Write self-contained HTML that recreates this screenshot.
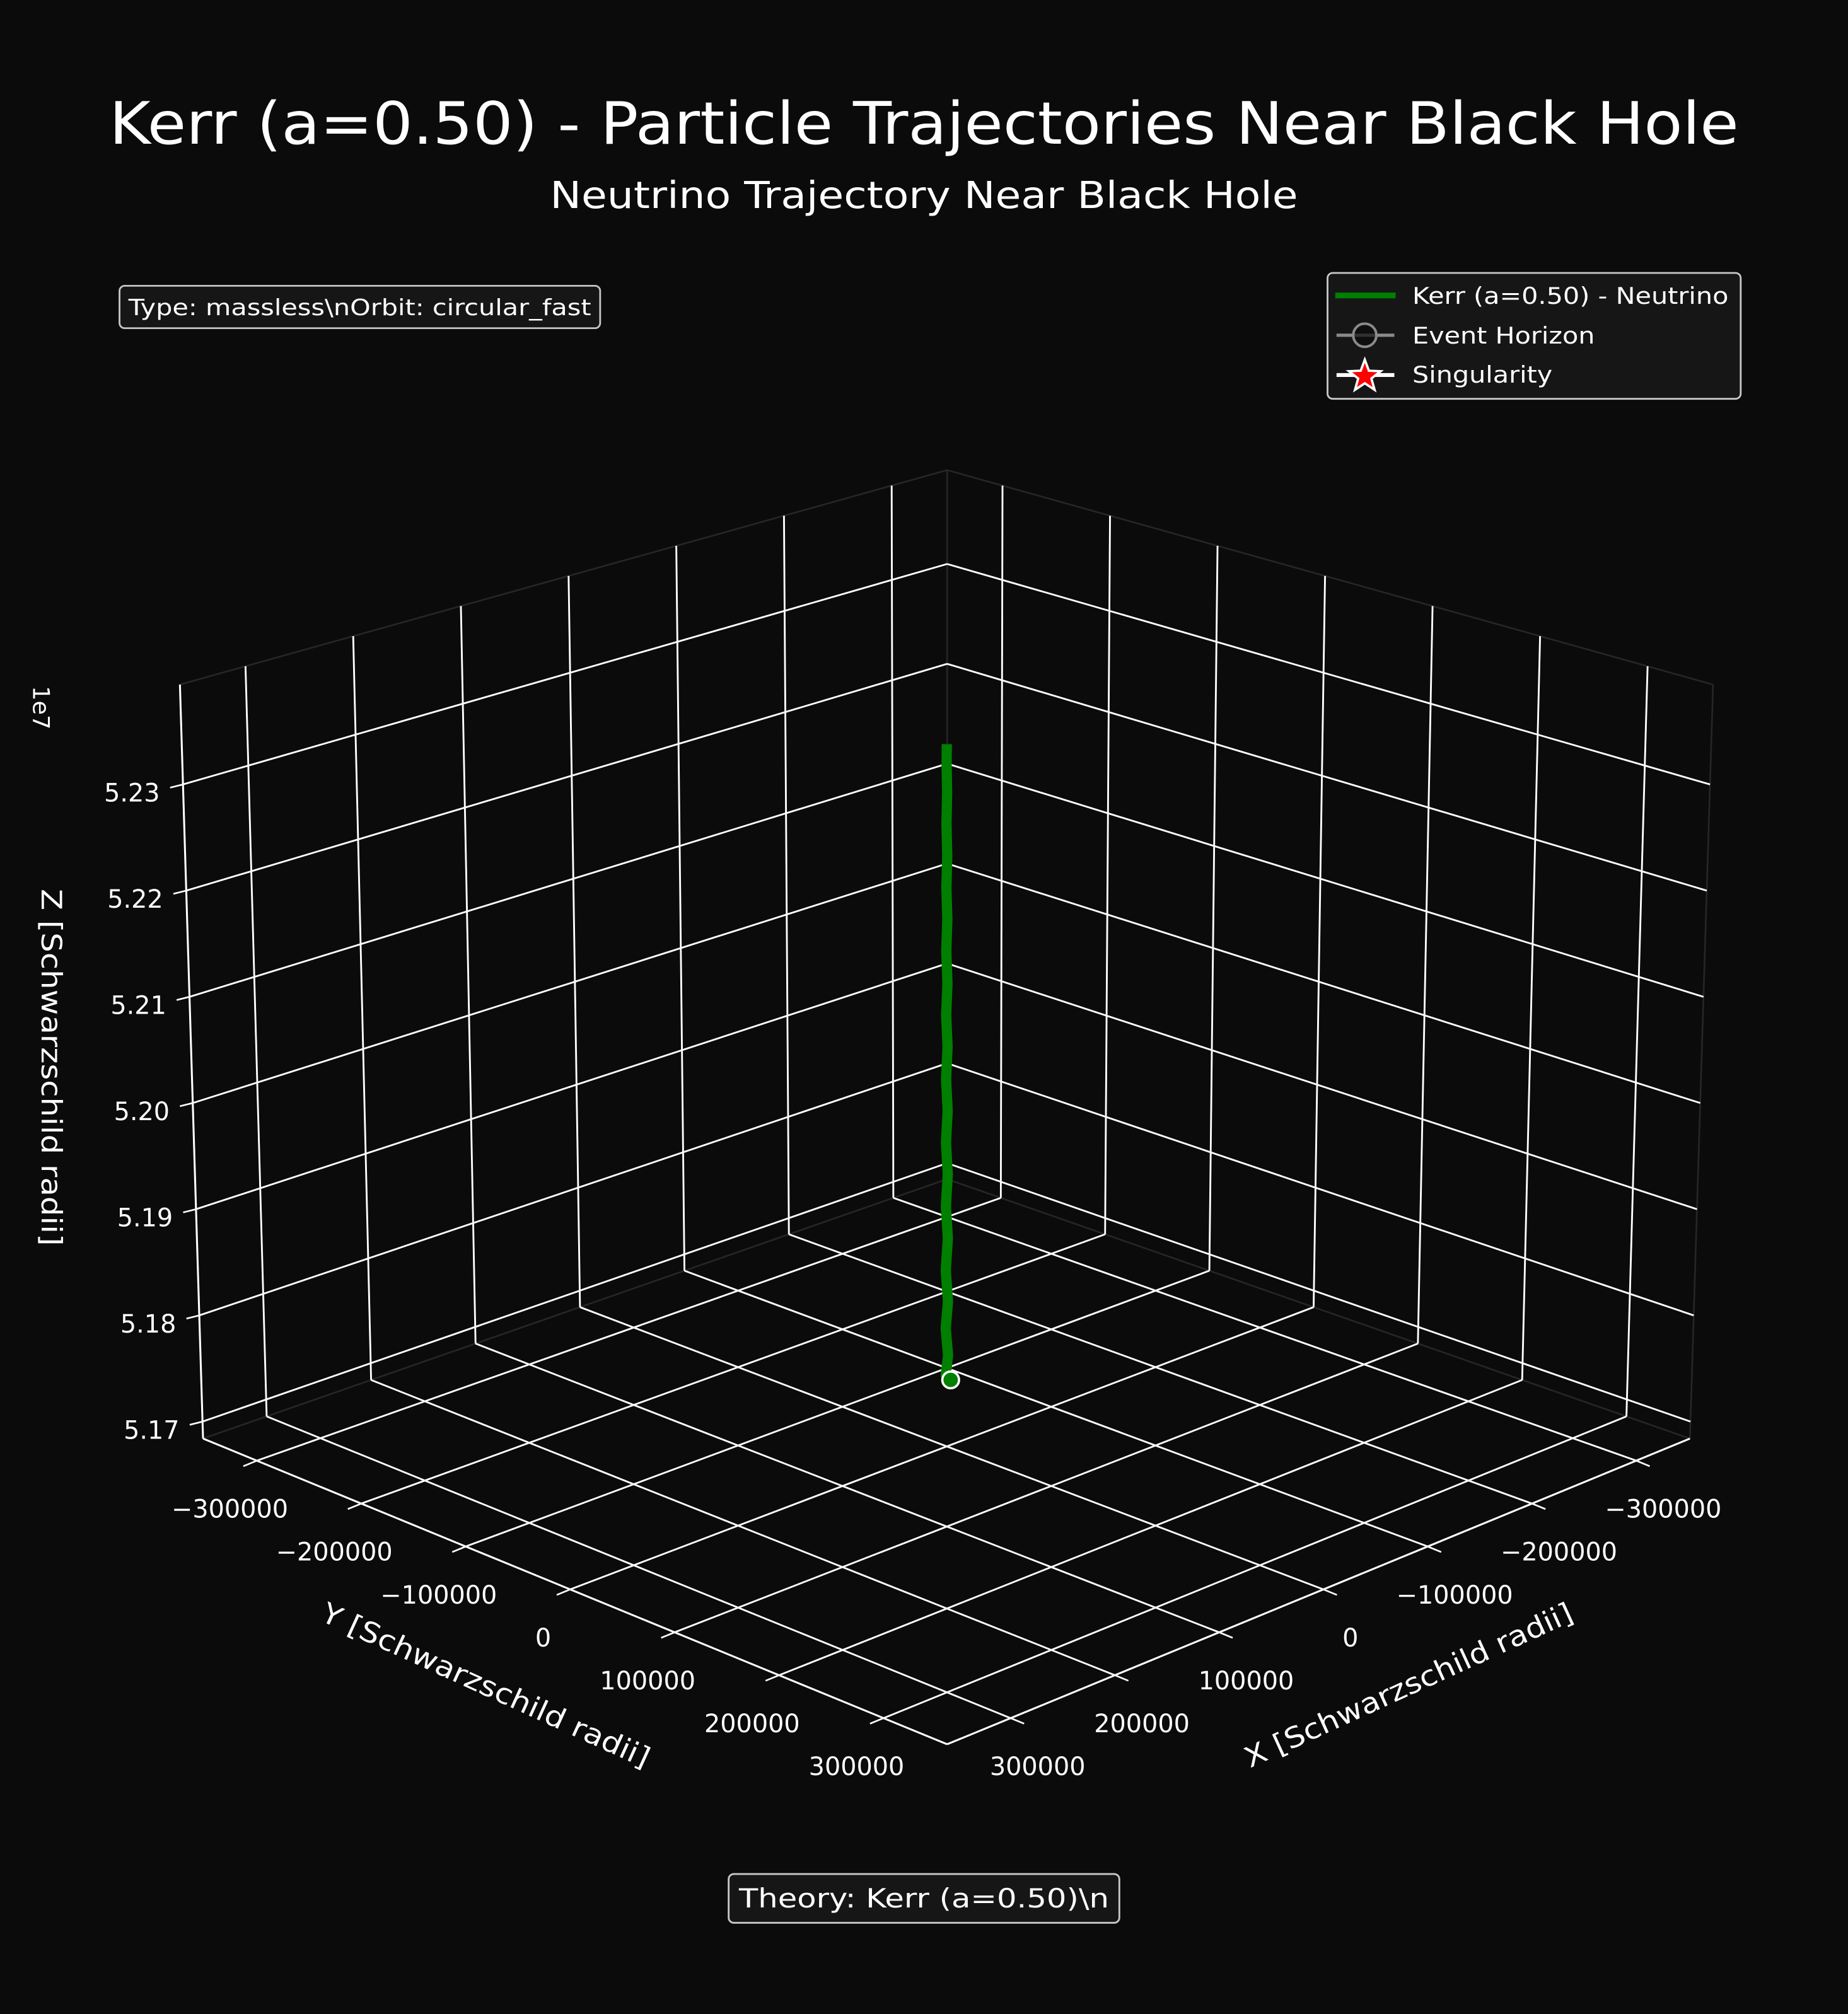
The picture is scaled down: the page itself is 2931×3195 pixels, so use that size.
<!DOCTYPE html>
<html>
<head>
<meta charset="utf-8">
<style>
html,body{margin:0;padding:0;background:#0b0b0b;}
svg{display:block;}
text{font-family:"DejaVu Sans","Liberation Sans",sans-serif;fill:#ffffff;}
</style>
</head>
<body>
<svg id="chart" width="2931" height="3195" viewBox="0 0 1438 1568" preserveAspectRatio="none" xmlns="http://www.w3.org/2000/svg">
  <rect x="0" y="0" width="1438" height="1568" fill="#0b0b0b"/>
  <text x="719" y="112" font-size="45.5" text-anchor="middle" textLength="1268" lengthAdjust="spacingAndGlyphs">Kerr (a=0.50) - Particle Trajectories Near Black Hole</text>
  <text x="719" y="162" font-size="29" text-anchor="middle" textLength="582" lengthAdjust="spacingAndGlyphs">Neutrino Trajectory Near Black Hole</text>

  <g>
    <rect x="93" y="222.5" width="374" height="33" rx="4" fill="#161616" stroke="#c4c4c4" stroke-width="1.4"/>
    <text x="280" y="245.5" font-size="17.5" text-anchor="middle" textLength="360" lengthAdjust="spacingAndGlyphs">Type: massless\nOrbit: circular_fast</text>
  </g>

  <g>
    <rect x="1033" y="212.5" width="321.5" height="98" rx="4" fill="#161616" stroke="#c8c8c8" stroke-width="1.4"/>
    <g>
      <line x1="1039" y1="230" x2="1086" y2="230" stroke="#007f00" stroke-width="4.5"/>
      <text x="1099" y="236.5" font-size="18" textLength="246" lengthAdjust="spacingAndGlyphs">Kerr (a=0.50) - Neutrino</text>
    </g>
    <g>
      <line x1="1040" y1="261" x2="1085" y2="261" stroke="#8a8a8a" stroke-width="2.5"/>
      <circle cx="1062" cy="261" r="9" fill="#0b0b0b" fill-opacity="0.7" stroke="#8a8a8a" stroke-width="2"/>
      <text x="1099" y="267.5" font-size="18" textLength="142" lengthAdjust="spacingAndGlyphs">Event Horizon</text>
    </g>
    <g>
      <line x1="1040" y1="292" x2="1085" y2="292" stroke="#ffffff" stroke-width="3"/>
      <polygon id="legendStar" fill="#ff0000" stroke="#ffffff" stroke-width="1.8"/>
      <text x="1099" y="298" font-size="18" textLength="109" lengthAdjust="spacingAndGlyphs">Singularity</text>
    </g>
  </g>

  <g id="panes"></g>
  <g id="grid"></g>
  <g id="axes"></g>
  <g id="ticks"></g>
  <g id="series"></g>

  <text x="32" y="551" font-size="18" text-anchor="middle" dominant-baseline="central" transform="rotate(90 32 551)">1e7</text>
  <text x="40" y="831" font-size="22" text-anchor="middle" dominant-baseline="central" textLength="278" lengthAdjust="spacingAndGlyphs" transform="rotate(90 40 831)">Z [Schwarzschild radii]</text>
  <text x="378" y="1312" font-size="22" text-anchor="middle" dominant-baseline="central" textLength="278" lengthAdjust="spacingAndGlyphs" transform="rotate(24.5 378 1312)">Y [Schwarzschild radii]</text>
  <text x="1096" y="1312" font-size="22" text-anchor="middle" dominant-baseline="central" textLength="278" lengthAdjust="spacingAndGlyphs" transform="rotate(-24.5 1096 1312)">X [Schwarzschild radii]</text>

  <g>
    <rect x="567" y="1459" width="304" height="38" rx="4" fill="#161616" stroke="#c8c8c8" stroke-width="1.4"/>
    <text x="719" y="1485" font-size="20.5" text-anchor="middle" textLength="288" lengthAdjust="spacingAndGlyphs">Theory: Kerr (a=0.50)\n</text>
  </g>
</svg>
<script>
// ---- chart data ----
const xTicks = [-300000, -200000, -100000, 0, 100000, 200000, 300000];
const yTicks = [-300000, -200000, -100000, 0, 100000, 200000, 300000];
const zTicks = [5.17e7, 5.18e7, 5.19e7, 5.20e7, 5.21e7, 5.22e7, 5.23e7];
const zTickLabels = ["5.17", "5.18", "5.19", "5.20", "5.21", "5.22", "5.23"];
const xyTickLabels = ["\u2212300000", "\u2212200000", "\u2212100000", "0", "100000", "200000", "300000"];
const xLimits = [-351500, 360900];
const yLimits = [-351500, 360900];
const zLimits = [5.1684e7, 5.2394e7];
const trajZ = [5.1749e7, 5.1770e7, 5.1795e7, 5.1820e7, 5.1850e7, 5.1880e7, 5.1910e7, 5.1940e7, 5.1970e7, 5.2000e7, 5.2030e7, 5.2060e7, 5.2090e7, 5.2120e7, 5.2150e7, 5.2180e7, 5.2210e7, 5.2240e7, 5.2270e7, 5.2300e7, 5.2325e7, 5.2345e7];
const trajX = [600, -600, 550, -550, 500, -500, 450, -450, 400, -400, 350, -350, 300, -300, 250, -250, 200, -200, 150, -150, 100, 0];
const trajY = [-600, 600, -550, 550, -500, 500, -450, 450, -400, 400, -350, 350, -300, 300, -250, 250, -200, 200, -150, 150, -100, 0];

// ---- projection (corners of the box in screen units) ----
const C = {
  "000": [737, 918], "100": [158, 1120], "010": [1315, 1120], "110": [737, 1358],
  "001": [737, 366], "101": [140, 533], "011": [1333, 533], "111": [737, 733]
};
function proj(x, y, z) {
  const u = (x - xLimits[0]) / (xLimits[1] - xLimits[0]);
  const v = (y - yLimits[0]) / (yLimits[1] - yLimits[0]);
  const w = (z - zLimits[0]) / (zLimits[1] - zLimits[0]);
  const r = [0, 0];
  for (const a of [0, 1]) for (const b of [0, 1]) for (const c of [0, 1]) {
    const wt = (a ? u : 1 - u) * (b ? v : 1 - v) * (c ? w : 1 - w);
    const p = C["" + a + b + c];
    r[0] += wt * p[0]; r[1] += wt * p[1];
  }
  return r;
}
const NS = "http://www.w3.org/2000/svg";
function mk(tag, attrs, parent) {
  const e = document.createElementNS(NS, tag);
  for (const k in attrs) e.setAttribute(k, attrs[k]);
  parent.appendChild(e);
  return e;
}
function seg(p, q, parent, color, w) {
  return mk("line", {x1: p[0], y1: p[1], x2: q[0], y2: q[1], stroke: color, "stroke-width": w}, parent);
}
const X0 = xLimits[0], X1 = xLimits[1], Y0 = yLimits[0], Y1 = yLimits[1], Z0 = zLimits[0], Z1 = zLimits[1];

// panes
const panes = document.getElementById("panes");
const paneEdges = [
  [[X0, Y0, Z1], [X1, Y0, Z1]], [[X0, Y0, Z1], [X0, Y1, Z1]],
  [[X0, Y0, Z0], [X0, Y0, Z1]], [[X0, Y0, Z0], [X1, Y0, Z0]], [[X0, Y0, Z0], [X0, Y1, Z0]],
  [[X0, Y1, Z0], [X0, Y1, Z1]]
];
for (const e of paneEdges) {
  const l = seg(proj(...e[0]), proj(...e[1]), panes, "#262626", 1.3);
  
  
}

// grid
const grid = document.getElementById("grid");
const GC = "#ffffff", GW = 1.4;
for (const x of xTicks) {
  const a = seg(proj(x, Y0, Z0), proj(x, Y0, Z1), grid, GC, GW);
  
  
  const b = seg(proj(x, Y0, Z0), proj(x, Y1, Z0), grid, GC, GW);
  
  
}
for (const y of yTicks) {
  const a = seg(proj(X0, y, Z0), proj(X0, y, Z1), grid, GC, GW);
  
  
  const b = seg(proj(X0, y, Z0), proj(X1, y, Z0), grid, GC, GW);
  
  
}
for (const z of zTicks) {
  const a = seg(proj(X0, Y0, z), proj(X1, Y0, z), grid, GC, GW);
  
  
  const b = seg(proj(X0, Y0, z), proj(X0, Y1, z), grid, GC, GW);
  
  
}

// axis lines
const axes = document.getElementById("axes");
const ya = seg(proj(X1, Y0, Z0), proj(X1, Y1, Z0), axes, "#ffffff", 1.5);


const xa = seg(proj(X0, Y1, Z0), proj(X1, Y1, Z0), axes, "#ffffff", 1.5);


const za = seg(proj(X1, Y0, Z0), proj(X1, Y0, Z1), axes, "#ffffff", 1.5);



// ticks + labels
const ticks = document.getElementById("ticks");
yTicks.forEach((y, i) => {
  const p = proj(X1, y, Z0);
  const t = seg(p, [p[0] - 10.5, p[1] + 4.3], ticks, "#ffffff", 1.3);
  
  
  const tx = mk("text", {x: p[0] - 21, y: p[1] + 38, "font-size": 19.5, "text-anchor": "middle", "dominant-baseline": "central"}, ticks);
  tx.textContent = xyTickLabels[i];
  
  
});
xTicks.forEach((x, i) => {
  const p = proj(x, Y1, Z0);
  const t = seg(p, [p[0] + 10.5, p[1] + 4.3], ticks, "#ffffff", 1.3);
  
  
  const tx = mk("text", {x: p[0] + 21, y: p[1] + 38, "font-size": 19.5, "text-anchor": "middle", "dominant-baseline": "central"}, ticks);
  tx.textContent = xyTickLabels[i];
  
  
});
zTicks.forEach((z, i) => {
  const p = proj(X1, Y0, z);
  const t = seg(p, [p[0] - 10, p[1] + 2.5], ticks, "#ffffff", 1.3);
  
  
  const tx = mk("text", {x: p[0] - 18, y: p[1] + 7, "font-size": 19.5, "text-anchor": "end", "dominant-baseline": "central"}, ticks);
  tx.textContent = zTickLabels[i];
  
  
});

// trajectory
const series = document.getElementById("series");
const pts = trajZ.map((z, i) => proj(trajX[i], trajY[i], z));
const line = mk("polyline", {points: pts.map(p => p[0].toFixed(2) + "," + p[1].toFixed(2)).join(" "), fill: "none", stroke: "#007f00", "stroke-width": 8, "stroke-linejoin": "round"}, series);


const s = proj(0, 0, trajZ[0]);
const start = mk("circle", {cx: s[0] + 3, cy: s[1] + 2, r: 6.5, fill: "#007f00", stroke: "#ffffff", "stroke-width": 1.8}, series);



// legend star
const star = document.getElementById("legendStar");
const sp = [];
for (let k = 0; k < 10; k++) {
  const r = k % 2 === 0 ? 13 : 5.4;
  const ang = -Math.PI / 2 + k * Math.PI / 5;
  sp.push((1062 + r * Math.cos(ang)).toFixed(2) + "," + (293 + r * Math.sin(ang)).toFixed(2));
}
star.setAttribute("points", sp.join(" "));
</script>
</body>
</html>
